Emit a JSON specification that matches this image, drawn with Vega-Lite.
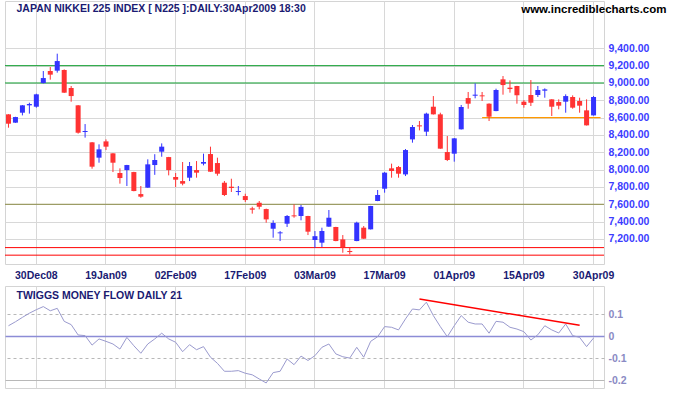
{
"$schema": "https://vega.github.io/schema/vega-lite/v6.json",
"background": "white",
"padding": {"left": 4, "top": 0, "right": 0, "bottom": 0},
"config": {
"view": {"stroke": "#d4d4d4"},
"font": "Liberation Sans",
"axis": {"labelOverlap": false, "ticks": false, "domain": false, "grid": true, "gridColor": "#d8d8d8", "labelFont": "Liberation Sans", "labelFontSize": 10.5, "labelFontWeight": "bold", "titleFont": "Liberation Sans", "titleFontWeight": "bold", "titleAngle": 0, "titleBaseline": "top"},
"axisX": {"bandPosition": 0.5, "labelAngle": 0, "labelColor": "#1a1a72", "labelPadding": 6, "titleAlign": "left", "titleColor": "#1a1a72", "titleFontSize": 10.5, "titleX": 11},
"axisY": {"orient": "right", "labelPadding": 4}
},
"spacing": 4,
"datasets": {
"bars": [
{"date":"24Dec08","open":8638,"high":8640,"low":8484,"close":8530,"tmf":0.048},
{"date":"25Dec08","open":8542,"high":8610,"low":8540,"close":8607,"tmf":0.066},
{"date":"26Dec08","open":8657,"high":8745,"low":8626,"close":8742,"tmf":0.086},
{"date":"29Dec08","open":8742,"high":8772,"low":8646,"close":8757,"tmf":0.105},
{"date":"30Dec08","open":8726,"high":8876,"low":8715,"close":8869,"tmf":0.121},
{"date":"05Jan09","open":8999,"high":9138,"low":8995,"close":9057,"tmf":0.135},
{"date":"06Jan09","open":9138,"high":9184,"low":9038,"close":9096,"tmf":0.116},
{"date":"07Jan09","open":9142,"high":9338,"low":9119,"close":9253,"tmf":0.127},
{"date":"08Jan09","open":9150,"high":9157,"low":8885,"close":8888,"tmf":0.068},
{"date":"09Jan09","open":8942,"high":8965,"low":8784,"close":8849,"tmf":0.053},
{"date":"13Jan09","open":8742,"high":8745,"low":8415,"close":8426,"tmf":0.006},
{"date":"14Jan09","open":8434,"high":8526,"low":8369,"close":8446,"tmf":0.003},
{"date":"15Jan09","open":8315,"high":8318,"low":8011,"close":8034,"tmf":-0.040},
{"date":"16Jan09","open":8138,"high":8292,"low":8080,"close":8234,"tmf":-0.012},
{"date":"19Jan09","open":8326,"high":8349,"low":8226,"close":8265,"tmf":-0.023},
{"date":"20Jan09","open":8188,"high":8190,"low":7972,"close":8080,"tmf":-0.035},
{"date":"21Jan09","open":7961,"high":8015,"low":7838,"close":7903,"tmf":-0.058},
{"date":"22Jan09","open":7995,"high":8055,"low":7811,"close":8053,"tmf":-0.005},
{"date":"23Jan09","open":7972,"high":7975,"low":7750,"close":7753,"tmf":-0.043},
{"date":"26Jan09","open":7718,"high":7811,"low":7676,"close":7688,"tmf":-0.077},
{"date":"27Jan09","open":7792,"high":8119,"low":7790,"close":8061,"tmf":-0.035},
{"date":"28Jan09","open":8053,"high":8178,"low":7940,"close":8111,"tmf":-0.012},
{"date":"29Jan09","open":8207,"high":8303,"low":8149,"close":8265,"tmf":0.014},
{"date":"30Jan09","open":8145,"high":8147,"low":7934,"close":7995,"tmf":-0.012},
{"date":"02Feb09","open":7915,"high":7961,"low":7799,"close":7884,"tmf":-0.027},
{"date":"03Feb09","open":7868,"high":8088,"low":7819,"close":7838,"tmf":-0.070},
{"date":"04Feb09","open":7907,"high":8088,"low":7868,"close":8042,"tmf":-0.038},
{"date":"05Feb09","open":7995,"high":8099,"low":7907,"close":7965,"tmf":-0.061},
{"date":"06Feb09","open":8069,"high":8184,"low":8049,"close":8088,"tmf":-0.047},
{"date":"09Feb09","open":8180,"high":8265,"low":7974,"close":7976,"tmf":-0.095},
{"date":"10Feb09","open":8076,"high":8138,"low":7930,"close":7953,"tmf":-0.123},
{"date":"12Feb09","open":7849,"high":7869,"low":7695,"close":7707,"tmf":-0.159},
{"date":"13Feb09","open":7803,"high":7895,"low":7742,"close":7788,"tmf":-0.159},
{"date":"16Feb09","open":7742,"high":7811,"low":7703,"close":7753,"tmf":-0.156},
{"date":"17Feb09","open":7695,"high":7722,"low":7626,"close":7649,"tmf":-0.168},
{"date":"18Feb09","open":7553,"high":7572,"low":7492,"close":7538,"tmf":-0.175},
{"date":"19Feb09","open":7618,"high":7638,"low":7542,"close":7572,"tmf":-0.194},
{"date":"20Feb09","open":7545,"high":7550,"low":7388,"close":7426,"tmf":-0.212},
{"date":"23Feb09","open":7318,"high":7415,"low":7215,"close":7384,"tmf":-0.165},
{"date":"24Feb09","open":7265,"high":7291,"low":7176,"close":7276,"tmf":-0.159},
{"date":"25Feb09","open":7376,"high":7476,"low":7338,"close":7465,"tmf":-0.103},
{"date":"26Feb09","open":7472,"high":7599,"low":7445,"close":7461,"tmf":-0.129},
{"date":"27Feb09","open":7465,"high":7592,"low":7415,"close":7570,"tmf":-0.090},
{"date":"02Mar09","open":7465,"high":7467,"low":7245,"close":7284,"tmf":-0.110},
{"date":"03Mar09","open":7188,"high":7291,"low":7099,"close":7232,"tmf":-0.088},
{"date":"04Mar09","open":7157,"high":7330,"low":7107,"close":7292,"tmf":-0.050},
{"date":"05Mar09","open":7342,"high":7534,"low":7340,"close":7445,"tmf":-0.035},
{"date":"06Mar09","open":7338,"high":7340,"low":7174,"close":7176,"tmf":-0.080},
{"date":"09Mar09","open":7195,"high":7245,"low":7041,"close":7107,"tmf":-0.093},
{"date":"10Mar09","open":7061,"high":7099,"low":7022,"close":7049,"tmf":-0.099},
{"date":"11Mar09","open":7176,"high":7399,"low":7174,"close":7388,"tmf":-0.050},
{"date":"12Mar09","open":7330,"high":7349,"low":7201,"close":7203,"tmf":-0.095},
{"date":"13Mar09","open":7311,"high":7582,"low":7309,"close":7580,"tmf":-0.023},
{"date":"16Mar09","open":7638,"high":7765,"low":7636,"close":7707,"tmf":-0.002},
{"date":"17Mar09","open":7780,"high":7972,"low":7734,"close":7965,"tmf":0.044},
{"date":"18Mar09","open":8015,"high":8069,"low":7907,"close":7984,"tmf":0.041},
{"date":"19Mar09","open":8030,"high":8042,"low":7907,"close":7953,"tmf":0.029},
{"date":"23Mar09","open":7945,"high":8238,"low":7926,"close":8226,"tmf":0.079},
{"date":"24Mar09","open":8349,"high":8515,"low":8311,"close":8492,"tmf":0.124},
{"date":"25Mar09","open":8511,"high":8561,"low":8453,"close":8499,"tmf":0.120},
{"date":"26Mar09","open":8438,"high":8657,"low":8388,"close":8646,"tmf":0.155},
{"date":"27Mar09","open":8726,"high":8849,"low":8636,"close":8638,"tmf":0.094},
{"date":"30Mar09","open":8638,"high":8657,"low":8240,"close":8242,"tmf":0.044},
{"date":"31Mar09","open":8203,"high":8388,"low":8099,"close":8111,"tmf":-0.002},
{"date":"01Apr09","open":8184,"high":8365,"low":8092,"close":8361,"tmf":0.048},
{"date":"02Apr09","open":8465,"high":8746,"low":8463,"close":8723,"tmf":0.094},
{"date":"03Apr09","open":8826,"high":8896,"low":8703,"close":8761,"tmf":0.064},
{"date":"06Apr09","open":8853,"high":8996,"low":8823,"close":8865,"tmf":0.056},
{"date":"07Apr09","open":8857,"high":8896,"low":8792,"close":8846,"tmf":0.056},
{"date":"08Apr09","open":8761,"high":8765,"low":8561,"close":8611,"tmf":0.014},
{"date":"09Apr09","open":8676,"high":8934,"low":8674,"close":8919,"tmf":0.068},
{"date":"10Apr09","open":9042,"high":9080,"low":8865,"close":8976,"tmf":0.064},
{"date":"13Apr09","open":8946,"high":9030,"low":8888,"close":8930,"tmf":0.041},
{"date":"14Apr09","open":8965,"high":8967,"low":8761,"close":8857,"tmf":0.033},
{"date":"15Apr09","open":8784,"high":8803,"low":8715,"close":8746,"tmf":0.021},
{"date":"16Apr09","open":8861,"high":9034,"low":8734,"close":8772,"tmf":-0.017},
{"date":"17Apr09","open":8861,"high":8965,"low":8838,"close":8919,"tmf":0.007},
{"date":"20Apr09","open":8911,"high":8938,"low":8830,"close":8926,"tmf":0.048},
{"date":"21Apr09","open":8811,"high":8813,"low":8619,"close":8726,"tmf":0.029},
{"date":"22Apr09","open":8780,"high":8811,"low":8696,"close":8738,"tmf":0.015},
{"date":"23Apr09","open":8784,"high":8869,"low":8657,"close":8849,"tmf":0.056},
{"date":"24Apr09","open":8838,"high":8857,"low":8703,"close":8715,"tmf":0.003},
{"date":"27Apr09","open":8792,"high":8830,"low":8657,"close":8738,"tmf":-0.005},
{"date":"28Apr09","open":8684,"high":8811,"low":8509,"close":8511,"tmf":-0.047},
{"date":"30Apr09","open":8626,"high":8850,"low":8624,"close":8838,"tmf":-0.008}
]
},
"vconcat": [
{
"width": 599,
"height": 263,
"layer": [
{
"data": {"values": [{"level": 9200, "kind": "upper"}, {"level": 9000, "kind": "upper"}, {"level": 7600, "kind": "middle"}, {"level": 7100, "kind": "lower"}, {"level": 7013, "kind": "lower"}]},
"mark": {"type": "rule", "strokeWidth": 1},
"encoding": {
"y": {"field": "level", "type": "quantitative", "scale": {"domain": [6911, 9946], "nice": false, "zero": false},
"axis": {"values": [7200,7400,7600,7800,8000,8200,8400,8600,8800,9000,9200,9400], "format": ",.2f", "labelColor": "#3c3cff", "title": "www.incrediblecharts.com", "titleX": 62, "titleY": 2, "titleAlign": "right", "titleFontSize": 11.5, "titleColor": "#000000"}},
"color": {"field": "kind", "type": "nominal", "scale": {"domain": ["upper", "middle", "lower"], "range": ["#12a032", "#8c8c46", "#ff0000"]}, "legend": null}
}
},
{
"data": {"values": [{"date": "07Apr09", "level": 8600}, {"date": " ", "level": 8600}]},
"mark": {"type": "line", "color": "#ff9900", "strokeWidth": 1.2},
"encoding": {
"x": {"field": "date", "type": "ordinal", "sort": null,
"scale": {"type": "band", "paddingInner": 0, "paddingOuter": 0, "domain": ["24Dec08","25Dec08","26Dec08","29Dec08","30Dec08","05Jan09","06Jan09","07Jan09","08Jan09","09Jan09","13Jan09","14Jan09","15Jan09","16Jan09","19Jan09","20Jan09","21Jan09","22Jan09","23Jan09","26Jan09","27Jan09","28Jan09","29Jan09","30Jan09","02Feb09","03Feb09","04Feb09","05Feb09","06Feb09","09Feb09","10Feb09","12Feb09","13Feb09","16Feb09","17Feb09","18Feb09","19Feb09","20Feb09","23Feb09","24Feb09","25Feb09","26Feb09","27Feb09","02Mar09","03Mar09","04Mar09","05Mar09","06Mar09","09Mar09","10Mar09","11Mar09","12Mar09","13Mar09","16Mar09","17Mar09","18Mar09","19Mar09","23Mar09","24Mar09","25Mar09","26Mar09","27Mar09","30Mar09","31Mar09","01Apr09","02Apr09","03Apr09","06Apr09","07Apr09","08Apr09","09Apr09","10Apr09","13Apr09","14Apr09","15Apr09","16Apr09","17Apr09","20Apr09","21Apr09","22Apr09","23Apr09","24Apr09","27Apr09","28Apr09","30Apr09"," "]},
"axis": {"values": ["30Dec08","19Jan09","02Feb09","17Feb09","03Mar09","17Mar09","01Apr09","15Apr09","30Apr09"], "title": "JAPAN NIKKEI 225 INDEX [ N225 ]:DAILY:30Apr2009 18:30", "titleY": -261}},
"y": {"field": "level", "type": "quantitative",
"axis": {"values": [7200,7400,7600,7800,8000,8200,8400,8600,8800,9000,9200,9400], "format": ",.2f", "labelColor": "#3c3cff", "title": "www.incrediblecharts.com", "titleX": 62, "titleY": 2, "titleAlign": "right", "titleFontSize": 11.5, "titleColor": "#000000"}}
}
},
{
"data": {"name": "bars"},
"mark": {"type": "rule", "strokeWidth": 1},
"encoding": {
"x": {"field": "date", "type": "ordinal", "sort": null,
"axis": {"values": ["30Dec08","19Jan09","02Feb09","17Feb09","03Mar09","17Mar09","01Apr09","15Apr09","30Apr09"], "title": "JAPAN NIKKEI 225 INDEX [ N225 ]:DAILY:30Apr2009 18:30", "titleY": -261}},
"y": {"field": "low", "type": "quantitative",
"axis": {"values": [7200,7400,7600,7800,8000,8200,8400,8600,8800,9000,9200,9400], "format": ",.2f", "labelColor": "#3c3cff", "title": "www.incrediblecharts.com", "titleX": 62, "titleY": 2, "titleAlign": "right", "titleFontSize": 11.5, "titleColor": "#000000"}},
"y2": {"field": "high"},
"color": {"condition": {"test": "datum.close > datum.open", "value": "#3333ff"}, "value": "#ff3333"}
}
},
{
"data": {"name": "bars"},
"mark": {"type": "bar", "width": {"band": 0.72}},
"encoding": {
"x": {"field": "date", "type": "ordinal", "sort": null,
"axis": {"values": ["30Dec08","19Jan09","02Feb09","17Feb09","03Mar09","17Mar09","01Apr09","15Apr09","30Apr09"], "title": "JAPAN NIKKEI 225 INDEX [ N225 ]:DAILY:30Apr2009 18:30", "titleY": -261}},
"y": {"field": "open", "type": "quantitative",
"axis": {"values": [7200,7400,7600,7800,8000,8200,8400,8600,8800,9000,9200,9400], "format": ",.2f", "labelColor": "#3c3cff", "title": "www.incrediblecharts.com", "titleX": 62, "titleY": 2, "titleAlign": "right", "titleFontSize": 11.5, "titleColor": "#000000"}},
"y2": {"field": "close"},
"color": {"condition": {"test": "datum.close > datum.open", "value": "#3333ff"}, "value": "#ff3333"}
}
}
]
},
{
"width": 599,
"height": 102,
"layer": [
{
"data": {"name": "bars"},
"mark": {"type": "line", "color": "#9a9ace", "strokeWidth": 1},
"encoding": {
"x": {"field": "date", "type": "ordinal", "sort": null,
"scale": {"type": "band", "paddingInner": 0, "paddingOuter": 0, "domain": ["24Dec08","25Dec08","26Dec08","29Dec08","30Dec08","05Jan09","06Jan09","07Jan09","08Jan09","09Jan09","13Jan09","14Jan09","15Jan09","16Jan09","19Jan09","20Jan09","21Jan09","22Jan09","23Jan09","26Jan09","27Jan09","28Jan09","29Jan09","30Jan09","02Feb09","03Feb09","04Feb09","05Feb09","06Feb09","09Feb09","10Feb09","12Feb09","13Feb09","16Feb09","17Feb09","18Feb09","19Feb09","20Feb09","23Feb09","24Feb09","25Feb09","26Feb09","27Feb09","02Mar09","03Mar09","04Mar09","05Mar09","06Mar09","09Mar09","10Mar09","11Mar09","12Mar09","13Mar09","16Mar09","17Mar09","18Mar09","19Mar09","23Mar09","24Mar09","25Mar09","26Mar09","27Mar09","30Mar09","31Mar09","01Apr09","02Apr09","03Apr09","06Apr09","07Apr09","08Apr09","09Apr09","10Apr09","13Apr09","14Apr09","15Apr09","16Apr09","17Apr09","20Apr09","21Apr09","22Apr09","23Apr09","24Apr09","27Apr09","28Apr09","30Apr09"," "]},
"axis": {"values": ["30Dec08","19Jan09","02Feb09","17Feb09","03Mar09","17Mar09","01Apr09","15Apr09","30Apr09"], "labels": false, "title": "TWIGGS MONEY FLOW DAILY 21", "titleY": -98}},
"y": {"field": "tmf", "type": "quantitative",
"scale": {"domain": [-0.235, 0.2286], "nice": false, "zero": false},
"axis": {"values": [-0.2, -0.1, 0, 0.1], "labelExpr": "'' + datum.value", "labelColor": "#8a8ac4", "title": null,
"gridColor": {"condition": {"test": "datum.value === 0", "value": "#8c8cd6"}, "value": "#b8b8b8"},
"gridDash": {"condition": {"test": "datum.value === 0.1 || datum.value === -0.1", "value": [3, 3]}, "value": []},
"gridWidth": {"condition": {"test": "datum.value === 0", "value": 1.5}, "value": 1}}}
}
},
{
"data": {"values": [{"date": "25Mar09", "value": 0.169}, {"date": "27Apr09", "value": 0.050}]},
"mark": {"type": "line", "color": "#ff0000", "strokeWidth": 1.5},
"encoding": {
"x": {"field": "date", "type": "ordinal", "sort": null,
"axis": {"values": ["30Dec08","19Jan09","02Feb09","17Feb09","03Mar09","17Mar09","01Apr09","15Apr09","30Apr09"], "labels": false, "title": "TWIGGS MONEY FLOW DAILY 21", "titleY": -98}},
"y": {"field": "value", "type": "quantitative",
"axis": {"values": [-0.2, -0.1, 0, 0.1], "labelExpr": "'' + datum.value", "labelColor": "#8a8ac4", "title": null,
"gridColor": {"condition": {"test": "datum.value === 0", "value": "#8c8cd6"}, "value": "#b8b8b8"},
"gridDash": {"condition": {"test": "datum.value === 0.1 || datum.value === -0.1", "value": [3, 3]}, "value": []},
"gridWidth": {"condition": {"test": "datum.value === 0", "value": 1.5}, "value": 1}}}
}
}
]
}
]
}
